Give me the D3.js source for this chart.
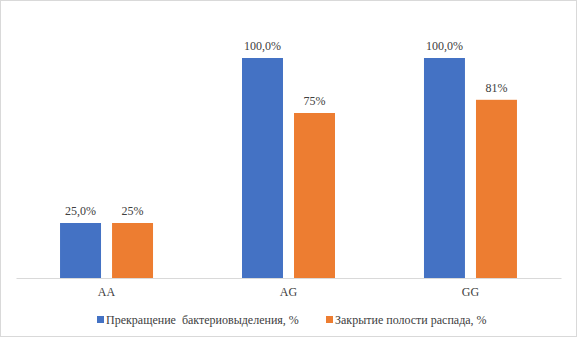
<!DOCTYPE html>
<html><head><meta charset="utf-8">
<script src="https://cdn.jsdelivr.net/npm/d3@7"></script>
<style>body{margin:0;background:#fff}svg{display:block}</style>
</head><body><svg id="c" width="577" height="337"></svg>
<script>
const categories = ["AA", "AG", "GG"];
const seriesNames = ["Прекращение  бактериовыделения, %", "Закрытие полости распада, %"];
const seriesColors = ["#4472c4", "#ed7d31"];
const bacteria = [25, 100, 100];
const cavity = [25, 75, 81];
const bacteriaLabels = ["25,0%", "100,0%", "100,0%"];
const cavityLabels = ["25%", "75%", "81%"];

const FONT = "'Liberation Serif'";
const svg = d3.select("#c");
svg.append("rect").attr("x",0.5).attr("y",0.5).attr("width",576).attr("height",336)
  .attr("fill","#fff").attr("stroke","#d9d9d9");

const x0 = d3.scaleBand().domain(categories).range([16, 561]).paddingInner(0.489).paddingOuter(0.242);
const x1 = d3.scaleBand().domain([0,1]).range([0, x0.bandwidth()]).paddingInner(0.212);
const y = d3.scaleLinear().domain([0, 100]).range([278, 58]);

const series = [bacteria, cavity];
const labels = [bacteriaLabels, cavityLabels];
series.forEach((vals, si) => {
  const g = svg.append("g");
  g.selectAll("rect").data(vals).join("rect")
    .attr("x", (d,i) => x0(categories[i]) + x1(si))
    .attr("y", d => y(d))
    .attr("width", x1.bandwidth())
    .attr("height", d => y(0) - y(d))
    .attr("fill", seriesColors[si]);
  g.selectAll("text").data(vals).join("text")
    .attr("x", (d,i) => x0(categories[i]) + x1(si) + x1.bandwidth()/2)
    .attr("y", d => y(d) - 8)
    .attr("text-anchor","middle").style("font-family",FONT).style("font-size","12px").attr("fill","#404040")
    .text((d,i) => labels[si][i]);
});

const axis = svg.append("g").attr("transform","translate(0,278)")
  .call(d3.axisBottom(x0).tickSize(0).tickPadding(9));
axis.attr("font-family", null);
axis.select(".domain").attr("stroke","#d9d9d9");
axis.selectAll("text").style("font-size","12px").attr("fill","#404040")
  .style("font-family",FONT);

const legendX = [97, 326];
seriesNames.forEach((n, i) => {
  svg.append("rect").attr("x", legendX[i]).attr("y", 316).attr("width",7).attr("height",7).attr("fill",seriesColors[i]);
  svg.append("text").attr("x", legendX[i]+9).attr("y", 324).style("font-size","12px").attr("fill","#404040")
    .style("font-family",FONT).style("white-space","pre").text(n);
});
</script></body></html>
